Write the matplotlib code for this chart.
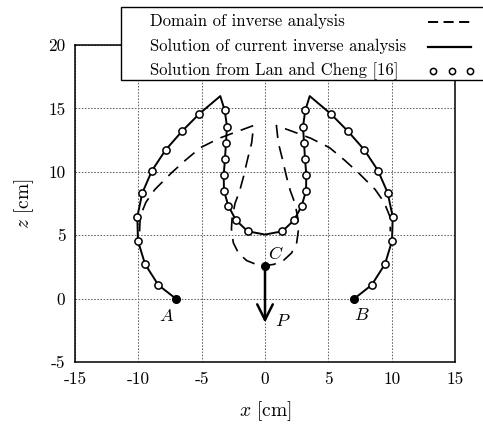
import numpy as np
import matplotlib
matplotlib.use("Agg")
import matplotlib.pyplot as plt
from matplotlib.patches import Rectangle
from matplotlib.lines import Line2D

plt.rcParams['font.family'] = 'serif'
plt.rcParams['font.serif'] = ['cmr10']
plt.rcParams['mathtext.fontset'] = 'cm'
plt.rcParams['axes.unicode_minus'] = False
plt.rcParams['axes.formatter.use_mathtext'] = True

# current inverse analysis (solid), path from A over the two lobes to B
solid_x = [-7.05, -8.42, -9.47, -10.03, -10.08, -9.68, -8.92, -7.84, -6.55, -5.18, -3.53,
           -3.18, -3.00, -3.08, -3.16, -3.26, -3.24, -2.89, -2.29, -1.37, 0.0,
           1.37, 2.29, 2.89, 3.24, 3.26, 3.16, 3.08, 3.00, 3.18, 3.53,
           5.18, 6.55, 7.84, 8.92, 9.68, 10.08, 10.03, 9.47, 8.42, 7.05]
solid_z = [0.0, 1.07, 2.72, 4.55, 6.47, 8.35, 10.1, 11.73, 13.2, 14.58, 15.97,
           14.84, 13.56, 12.3, 11.02, 9.76, 8.5, 7.3, 6.18, 5.31, 5.05,
           5.31, 6.18, 7.3, 8.5, 9.76, 11.02, 12.3, 13.56, 14.84, 15.97,
           14.58, 13.2, 11.73, 10.1, 8.35, 6.47, 4.55, 2.72, 1.07, 0.0]

# Lan and Cheng [16] (open circles)
lan_x = [-8.42, -9.47, -10.03, -10.08, -9.68, -8.92, -7.84, -6.55, -5.18,
         -3.18, -3.00, -3.08, -3.16, -3.26, -3.24, -2.89, -2.29, -1.37,
         1.37, 2.29, 2.89, 3.24, 3.26, 3.16, 3.08, 3.00, 3.18,
         5.18, 6.55, 7.84, 8.92, 9.68, 10.08, 10.03, 9.47, 8.42]
lan_z = [1.07, 2.72, 4.55, 6.47, 8.35, 10.1, 11.73, 13.2, 14.58,
         14.84, 13.56, 12.3, 11.02, 9.76, 8.5, 7.3, 6.18, 5.31,
         5.31, 6.18, 7.3, 8.5, 9.76, 11.02, 12.3, 13.56, 14.84,
         14.58, 13.2, 11.73, 10.1, 8.35, 6.47, 4.55, 2.72, 1.07]

# domain of inverse analysis (dashed)
dom_x = [-9.9, -9.85, -9.4, -8.7, -7.4, -6.3, -5.1, -3.6, -2.4, -0.9,
         -1.05, -1.4, -1.7, -2.0, -2.37, -2.6, -2.65, -2.5, -2.1, -1.45, -0.7, 0.0,
         0.7, 1.45, 2.1, 2.5, 2.65, 2.6, 2.37, 2.0, 1.7, 1.4, 1.05,
         0.9, 2.4, 3.6, 5.1, 6.3, 7.4, 8.7, 9.4, 9.85, 9.9]
dom_z = [5.3, 6.5, 7.6, 8.6, 9.9, 10.9, 11.9, 12.65, 13.1, 13.65,
         12.3, 10.9, 9.6, 8.5, 7.5, 6.3, 5.5, 4.4, 3.6, 3.0, 2.7, 2.6,
         2.7, 3.0, 3.6, 4.4, 5.5, 6.3, 7.5, 8.5, 9.6, 10.9, 12.3,
         13.65, 13.1, 12.65, 11.9, 10.9, 9.9, 8.6, 7.6, 6.5, 5.3]

ends_x = [-7.05, 7.05]
ends_z = [0.0, 0.0]
point_c = (0.0, 2.6)
load_tip_z = -1.9

ticks_x = [-15, -10, -5, 0, 5, 10, 15]
ticks_z = [-5, 0, 5, 10, 15, 20]

fig = plt.figure(figsize=(4.83, 4.26), dpi=100)
ax = fig.add_axes([75/483, 64/426, 380/483, 317/426])

ax.plot(dom_x, dom_z, color='k', lw=1.2, dashes=(8, 5), zorder=3)
ax.plot(solid_x, solid_z, color='k', lw=1.4, zorder=4)
ax.plot(lan_x, lan_z, ls='none', marker='o', ms=5.2, mfc='white', mec='k', mew=1.1, zorder=5)
ax.plot(ends_x, ends_z, ls='none', marker='o', ms=5.5, color='k', zorder=6)
ax.plot([point_c[0]], [point_c[1]], ls='none', marker='o', ms=5.5, color='k', zorder=6)
ax.annotate('', xy=(0, load_tip_z), xytext=point_c,
            arrowprops=dict(arrowstyle='->', lw=1.8, color='k', mutation_scale=28,
                            shrinkA=0, shrinkB=0), zorder=6)

ax.text(-7.75, -1.35, '$A$', fontsize=13, ha='center', va='center')
ax.text(7.65, -1.3, '$B$', fontsize=13, ha='center', va='center')
ax.text(0.85, 3.55, '$C$', fontsize=13, ha='center', va='center')
ax.text(1.4, -1.75, '$P$', fontsize=13, ha='center', va='center')

ax.set_xlim(-15, 15)
ax.set_ylim(-5, 20)
ax.set_xticks(ticks_x)
ax.set_yticks(ticks_z)
ax.set_xticklabels([str(t) for t in ticks_x])
ax.set_yticklabels([str(t) for t in ticks_z])
ax.tick_params(length=0, labelsize=12.5, pad=7)
ax.grid(True, color='0.4', lw=0.75, ls=(0, (1.5, 1.5)))
ax.set_axisbelow(True)
for s in ax.spines.values():
    s.set_linewidth(1.1)
ax.set_xlabel('$x$ [cm]', fontsize=14, labelpad=9)
ax.set_ylabel('$z$ [cm]', fontsize=14, labelpad=9)

# legend drawn by hand: texts left aligned, handles on the right
W, H = 483, 426
fig.add_artist(Rectangle((121.5/W, 1 - 80/H), 1.1, 73.5/H, transform=fig.transFigure,
                         facecolor='white', edgecolor='k', lw=1.0, zorder=10, clip_on=False))
labels = ['Domain of inverse analysis', 'Solution of current inverse analysis',
          'Solution from Lan and Cheng [16]']
rows_y = [21.7, 46.7, 70.7]
for lab, yy in zip(labels, rows_y):
    fig.text(150/W, 1 - yy/H, lab, fontsize=12, ha='left', va='center', zorder=11)
hx = [428/W, 471/W]
fig.add_artist(Line2D(hx, [1 - rows_y[0]/H] * 2, transform=fig.transFigure, color='k',
                      lw=1.4, dashes=(5.2, 2.8), zorder=11))
fig.add_artist(Line2D(hx, [1 - rows_y[1]/H] * 2, transform=fig.transFigure, color='k',
                      lw=1.6, zorder=11))
fig.add_artist(Line2D([433/W, 451.5/W, 470/W], [1 - rows_y[2]/H] * 3, transform=fig.transFigure,
                      ls='none', marker='o', ms=4.5, mfc='white', mec='k', mew=1.1, zorder=11))

fig.savefig('out.png', dpi=100)
